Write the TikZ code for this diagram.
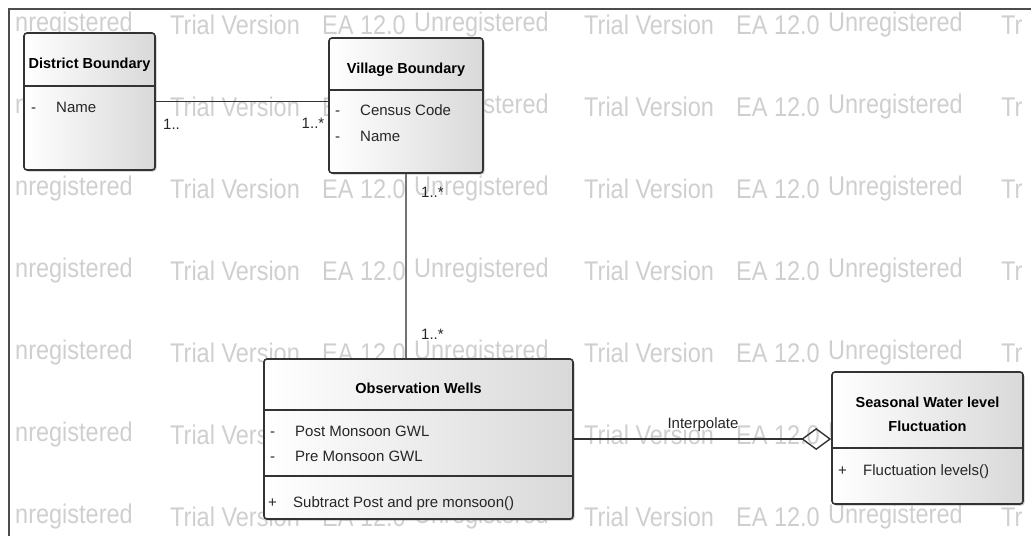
\documentclass[tikz,border=0pt]{standalone}
\usepackage{fontspec}
\usepackage{graphicx}
\setmainfont{Liberation Sans}
\usetikzlibrary{positioning,arrows.meta,shadows}
\newcommand{\umlmember}[2]{\makebox[25pt][l]{#1}#2}
\newcommand{\wmtext}[1]{\scalebox{0.87}[1]{#1}}

\begin{document}
\begin{tikzpicture}[x=1pt, y=-1pt, every node/.style={inner sep=0pt}]
    \tikzstyle{classbox} = [rectangle, draw=black!80, line width=1.6pt, rounded corners=3pt, left color=white, right color=black!15, drop shadow={shadow xshift=1.5pt, shadow yshift=-1.5pt, opacity=0.45}]
    \tikzstyle{divider} = [draw=black!80, line width=1.5pt]
    \tikzstyle{classname} = [font=\fontsize{14.5}{24}\selectfont\bfseries, align=center]
    \tikzstyle{member} = [font=\fontsize{15}{18}\selectfont, text=black!85, anchor=west, text height=11pt, text depth=3pt]
    \tikzstyle{mult} = [font=\fontsize{15}{18}\selectfont, text=black!85, text height=11pt, text depth=3pt]
    \tikzstyle{wmark} = [font=\fontsize{27}{27}\selectfont, text=black!19, anchor=west]
    \tikzstyle{assoc} = [draw=black!80, line width=1.4pt]

    \useasboundingbox (0,0) rectangle (1031,536);

    % trial version watermark
    \foreach \y in {25,107,189,271,353,435,517} {
        \node (wa\y) [wmark] at (15,\y) {\wmtext{nregistered}};
        \foreach \p in {0,414} {
            \node (wb\y\p) [wmark] at (\p+170,\y) {\wmtext{Trial Version}};
            \node (wc\y\p) [wmark] at (\p+322,\y) {\wmtext{EA 12.0}};
        }
        \node (wd\y) [wmark] at (414,\y) {\wmtext{Unregistered}};
        \node (we\y) [wmark] at (828,\y) {\wmtext{Unregistered}};
        \node (wf\y) [wmark] at (1001,\y) {\wmtext{Tr}};
    }
    \draw [black!70, line width=2pt] (9,536) -- (9,9) -- (1031,9);

    \node (district) [classbox, minimum width=131pt, minimum height=137pt] at (89.5,101.5) {};
    \node (village) [classbox, minimum width=154pt, minimum height=135pt] at (406,105.5) {};
    \node (wells) [classbox, minimum width=309pt, minimum height=160pt] at (418.5,439) {};
    \node (seasonal) [classbox, minimum width=191pt, minimum height=132pt] at (927.5,438) {};

    % compartments
    \draw [divider] ([yshift=-54pt]district.north west) -- ([yshift=-54pt]district.north east);
    \draw [divider] ([yshift=-53pt]village.north west) -- ([yshift=-53pt]village.north east);
    \draw [divider] ([yshift=-52pt]wells.north west) -- ([yshift=-52pt]wells.north east);
    \draw [divider] ([yshift=-118pt]wells.north west) -- ([yshift=-118pt]wells.north east);
    \draw [divider] ([yshift=-77pt]seasonal.north west) -- ([yshift=-77pt]seasonal.north east);

    \node (districtName) [classname] at (89.5,65) {District Boundary};
    \node (districtAttr) [member] at (31,108) {\umlmember{-}{Name}};

    \node (villageName) [classname] at (406,70) {Village Boundary};
    \node (villageCode) [member] at (335,111) {\umlmember{-}{Census Code}};
    \node (villageAttr) [member] at (335,137) {\umlmember{-}{Name}};

    \node (wellsName) [classname] at (418.5,388) {Observation Wells};
    \node (wellsPost) [member] at (270,432) {\umlmember{-}{Post Monsoon GWL}};
    \node (wellsPre) [member] at (270,457) {\umlmember{-}{Pre Monsoon GWL}};
    \node (wellsOp) [member] at (268,503) {\umlmember{+}{Subtract Post and pre monsoon()}};

    \node (seasonalName) [classname] at (927.5,414) {Seasonal Water level\\Fluctuation};
    \node (seasonalOp) [member] at (838,471) {\umlmember{+}{Fluctuation levels()}};

    \node (multDistrict) [mult, anchor=west] at (163,125) {1..};
    \node (multVillage) [mult] at (313,124) {1..*};
    \node (multUp) [mult, anchor=west] at (421,193) {1..*};
    \node (multDown) [mult, anchor=west] at (421,335) {1..*};
    \node (interpolate) [mult] at (703,424) {Interpolate};

    \draw [assoc] (district.east) -- (district.east -| village.west);
    \draw [assoc, draw=black!55] (village.south) -- (village.south |- wells.north);
    \draw [assoc, -{Diamond[open, length=30pt, width=22pt]}] (wells.east) -- (wells.east -| seasonal.west);

    \end{tikzpicture}
\end{document}
